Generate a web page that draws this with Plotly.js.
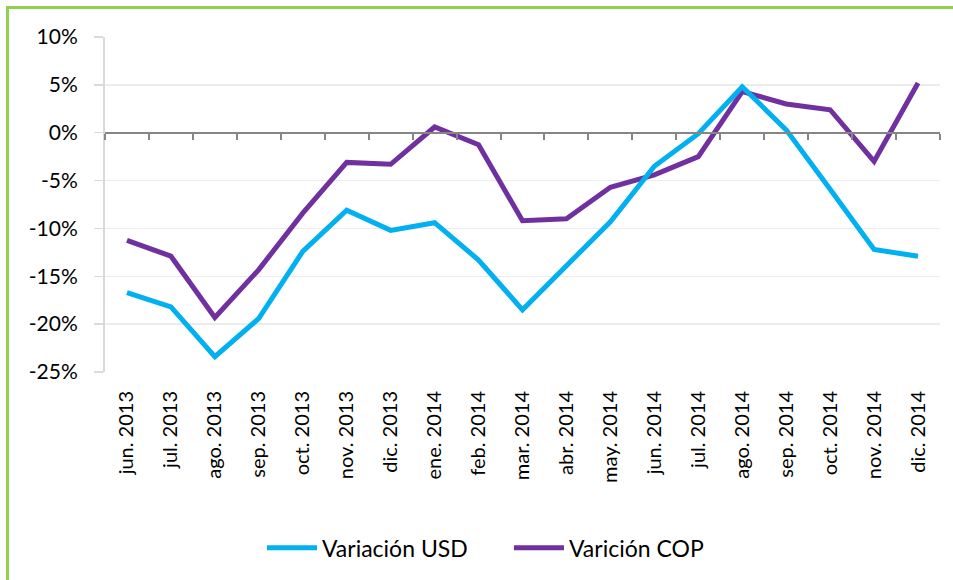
<!DOCTYPE html>
<html>
<head>
<meta charset="utf-8">
<script src="https://cdn.plot.ly/plotly-3.0.1.min.js"></script>
<style>
  html, body { margin: 0; padding: 0; background: #fff; overflow: hidden; }
  #frame { position: absolute; left: 6px; top: 6px; width: 960px; height: 600px;
           border-left: 3px solid #92D050; border-top: 3px solid #92D050; pointer-events: none; z-index: 5; }
  #chart { position: absolute; left: 0; top: 0; width: 953px; height: 580px; }
</style>
</head>
<body>
<div id="chart"></div>
<div id="frame"></div>
<script>
const months = ["jun. 2013","jul. 2013","ago. 2013","sep. 2013","oct. 2013","nov. 2013","dic. 2013",
  "ene. 2014","feb. 2014","mar. 2014","abr. 2014","may. 2014","jun. 2014","jul. 2014","ago. 2014",
  "sep. 2014","oct. 2014","nov. 2014","dic. 2014"];
const variacionUSD = [-16.7,-18.2,-23.4,-19.4,-12.4,-8.1,-10.2,-9.4,-13.3,-18.5,-13.9,-9.3,-3.5,-0.1,4.8,0.3,-5.9,-12.2,-12.9];
const varicionCOP  = [-11.25,-12.9,-19.3,-14.3,-8.4,-3.1,-3.3,0.6,-1.25,-9.2,-9.0,-5.7,-4.4,-2.5,4.3,3.0,2.4,-3.0,5.2];
const yTickVals = [-25,-20,-15,-10,-5,0,5,10];
const yTickText = ["-25%","-20%","-15%","-10%","-5%","0%","5%","10%"];

const FONT = "Lato, 'Noto Sans', sans-serif";

const traces = [
  { x: months, y: variacionUSD, name: "Variación USD", type: "scatter", mode: "lines",
    xaxis: "x2", yaxis: "y",
    line: { color: "#00B0F0", width: 5 }, hoverinfo: "skip" },
  { x: months, y: varicionCOP, name: "Varición COP", type: "scatter", mode: "lines",
    xaxis: "x", yaxis: "y",
    line: { color: "#7030A0", width: 5 }, hoverinfo: "skip" }
];

const yMin = -25, yMax = 10;
const zeroPos = (0 - yMin) / (yMax - yMin);

const layout = {
  width: 953, height: 580,
  margin: { l: 105, r: 13, t: 37, b: 207 },
  paper_bgcolor: "#ffffff", plot_bgcolor: "#ffffff",
  font: { family: FONT, size: 20, color: "#000000" },
  showlegend: true,
  legend: { orientation: "h", x: 0.188, xanchor: "left", y: -0.52, yanchor: "middle",
            font: { family: FONT, size: 23, color: "#000" }, entrywidth: 182, entrywidthmode: "pixels",
            itemwidth: 50, tracegroupgap: 0 },
  xaxis: {
    type: "category", categoryarray: months, range: [-0.5, 18.5],
    anchor: "free", position: zeroPos,
    showline: true, linecolor: "#868686", linewidth: 2,
    ticks: "outside", tickson: "boundaries", ticklen: 6, tickcolor: "#868686", tickwidth: 2,
    showticklabels: false, showgrid: false, zeroline: false, fixedrange: true
  },
  xaxis2: {
    type: "category", categoryarray: months, range: [-0.5, 18.5],
    overlaying: "x", anchor: "y", side: "bottom",
    showline: false, ticks: "", showgrid: false, zeroline: false,
    tickangle: -90, ticklabelstandoff: 14,
    tickfont: { family: FONT, size: 20, color: "#000" }, fixedrange: true
  },
  yaxis: {
    range: [yMin, yMax], tickmode: "array", tickvals: yTickVals, ticktext: yTickText,
    showgrid: true, gridcolor: "#ececec", gridwidth: 1.5,
    showline: true, linecolor: "#d9d9d9", linewidth: 2,
    ticks: "outside", ticklen: 9, tickcolor: "#d9d9d9", tickwidth: 1.5,
    zeroline: false, ticklabelstandoff: 12,
    tickfont: { family: FONT, size: 21, color: "#000" }, fixedrange: true
  }
};

Plotly.newPlot("chart", traces, layout, { staticPlot: true, displayModeBar: false });
</script>
</body>
</html>
